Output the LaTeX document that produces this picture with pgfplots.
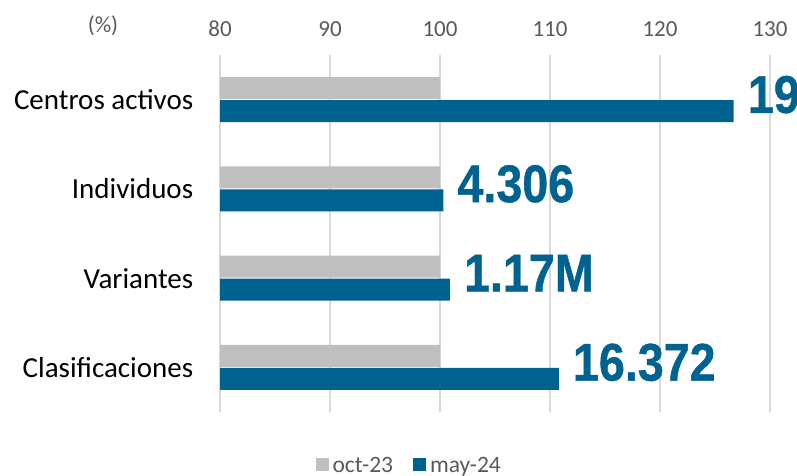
\documentclass[border=0pt]{standalone}
\usepackage{pgfplots}
\pgfplotsset{compat=1.18}
\usepackage{pgfplotstable}
\usepackage{fontspec}
\setmainfont{Carlito}
\newfontfamily\labfont[FakeStretch=0.88,FakeBold=0.8]{Liberation Sans Bold}
\definecolor{barblue}{HTML}{00638F}
\definecolor{bargray}{HTML}{BFBFBF}
\definecolor{gridgray}{HTML}{D9D9D9}
\definecolor{txtgray}{HTML}{595959}

\pgfplotstableread{
y val
3 100
2 100
1 100
0 100
}\octdata
\pgfplotstableread{
y val lab
3 126.7 19
2 100.3 4.306
1 100.9 1.17M
0 110.8 16.372
}\maydata

\begin{document}
\begin{tikzpicture}[x=1pt,y=1pt]
\useasboundingbox (0,0) rectangle (797,475);
\node[text=txtgray,font=\fontsize{23}{26}\selectfont] at (103,449) {(\%)};
\begin{axis}[
  at={(220pt,63pt)}, anchor=south west,
  scale only axis, width=550pt, height=357pt,
  xmin=80, xmax=130, ymin=-0.5, ymax=3.5,
  xtick={80,90,...,130},
  ytick={0,1,2,3},
  yticklabels={Clasificaciones,Variantes,Individuos,Centros activos},
  xticklabel pos=upper,
  axis line style={draw=none},
  major tick style={draw=none},
  xmajorgrids, major grid style={gridgray, line width=1.6pt},
  /pgf/number format/assume math mode=true,
  xticklabel style={text=txtgray, font=\fontsize{23}{26}\selectfont, yshift=15pt},
  yticklabel style={text=black, font=\fontsize{29}{32}\selectfont, xshift=-19pt},
  xbar, bar width=22pt,
  legend columns=2,
  legend style={draw=none, fill=none, at={(0.344,-0.151)}, anchor=center,
    font=\fontsize{23.5}{26}\selectfont, text=txtgray,
    /tikz/every odd column/.append style={column sep=2pt},
    /tikz/every even column/.append style={column sep=18pt}},
  legend image code/.code={\fill[#1,draw=none] (0pt,-5pt) rectangle (13pt,8pt);},
]
\addplot[fill=bargray, draw=none, bar shift=11.5pt] table[x=val,y=y] {\octdata};
\addlegendentry{oct-23}
\addplot[fill=barblue, draw=none, bar shift=-11.5pt,
  point meta=explicit symbolic, nodes near coords,
  every node near coord/.style={anchor=west, xshift=14pt, yshift=5pt, inner sep=0pt,
    text=barblue, font=\labfont\fontsize{53}{56}\selectfont}]
  table[x=val,y=y,meta=lab] {\maydata};
\addlegendentry{may-24}
\end{axis}
\end{tikzpicture}
\end{document}
